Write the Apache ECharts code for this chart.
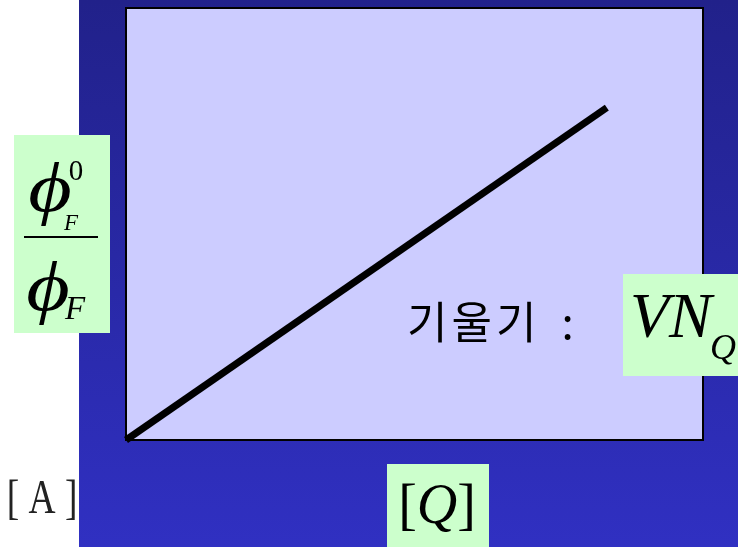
<!DOCTYPE html>
<html>
<head>
<meta charset="utf-8">
<script src="https://cdn.jsdelivr.net/npm/echarts@6/dist/echarts.min.js"></script>
<style>
  html, body { margin: 0; padding: 0; background: #ffffff; }
  #chart { width: 738px; height: 547px; }
</style>
</head>
<body>
<div id="chart"></div>
<script>
// Stern–Volmer style plot: quencher concentration vs. fluorescence ratio (arbitrary units)
const quencherConc = [0, 10];
const fluorRatio = [0, 10];
const slopeWord = '기울기';
const slopeSep = ':';
const cornerLabel = '[ A ]';

const serif = '"Liberation Serif", "DejaVu Serif", serif';
const chart = echarts.init(document.getElementById('chart'));

function txt(x, y, text, font, extra) {
  return Object.assign({
    type: 'text', x: x, y: y, z: 20,
    style: { text: text, font: font, fill: '#000', align: 'center', verticalAlign: 'middle' }
  }, extra || {});
}

// slope caption with a little extra spacing between the Hangul syllables
const slopeRich = slopeWord.split('').map(ch => '{g|' + ch + '}').join('') + '{c|' + slopeSep + '}';

chart.setOption({
  backgroundColor: '#ffffff',
  animation: false,
  grid: {
    left: 126, top: 8, width: 577, height: 432,
    show: true,
    backgroundColor: '#ccccff',
    borderColor: '#000000',
    borderWidth: 2,
    z: 5
  },
  xAxis: { type: 'value', min: 0, max: 12, show: false, splitLine: { show: false } },
  yAxis: { type: 'value', min: 0, max: 13, show: false, splitLine: { show: false } },
  series: [{
    type: 'line',
    data: quencherConc.map((q, i) => [q, fluorRatio[i]]),
    showSymbol: false,
    symbol: 'none',
    lineStyle: { color: '#000000', width: 7 },
    z: 6
  }],
  graphic: [
    // blue panel behind the plot
    {
      type: 'rect', z: -10, silent: true,
      shape: { x: 79, y: 0, width: 659, height: 547 },
      style: {
        fill: new echarts.graphic.LinearGradient(0, 0, 0, 1, [
          { offset: 0, color: '#21218a' },
          { offset: 1, color: '#3030c2' }
        ])
      }
    },
    // label boxes
    { type: 'rect', z: 15, shape: { x: 14, y: 135, width: 96, height: 198 }, style: { fill: '#ccffcc' } },
    { type: 'rect', z: 15, shape: { x: 623, y: 274, width: 115, height: 102 }, style: { fill: '#ccffcc' } },
    { type: 'rect', z: 15, shape: { x: 387, y: 464, width: 102, height: 83 }, style: { fill: '#ccffcc' } },

    // y-axis label: ϕ⁰_F / ϕ_F
    txt(50, 193, 'ϕ', 'italic 70px ' + serif, { scaleX: 1.2 }),
    txt(76, 172, '0', '29px ' + serif),
    txt(71, 224, 'F', 'italic 23px ' + serif),
    { type: 'rect', z: 20, shape: { x: 24, y: 236, width: 74, height: 2 }, style: { fill: '#000' } },
    txt(48, 292, 'ϕ', 'italic 70px ' + serif, { scaleX: 1.2 }),
    txt(75, 310, 'F', 'italic 33px ' + serif),

    // slope annotation
    {
      type: 'text', x: 405, y: 322, z: 20,
      style: {
        text: slopeRich, verticalAlign: 'middle',
        rich: {
          g: { font: '44px "Noto Sans CJK KR", sans-serif', fill: '#000', padding: [0, 2, 0, 2] },
          c: { font: '44px "Noto Sans CJK KR", sans-serif', fill: '#000', padding: [0, 0, 0, 23] }
        }
      }
    },
    { type: 'text', x: 630, y: 320, z: 20,
      style: { text: 'VN', font: 'italic 64px ' + serif, fill: '#000', verticalAlign: 'middle' } },
    { type: 'text', x: 710, y: 350, z: 20,
      style: { text: 'Q', font: 'italic 36px ' + serif, fill: '#000', verticalAlign: 'middle' } },

    // x-axis label
    {
      type: 'text', x: 437, y: 508, z: 20,
      style: {
        text: '{b|[}{q|Q}{b|]}', align: 'center', verticalAlign: 'middle',
        rich: { b: { font: '56px ' + serif, fill: '#000' }, q: { font: 'italic 56px ' + serif, fill: '#000' } }
      }
    },
    // panel tag
    {
      type: 'text', x: 42, y: 500, z: 20, scaleX: 0.78,
      style: { text: cornerLabel, font: '48px ' + serif, fill: '#222', align: 'center', verticalAlign: 'middle' }
    }
  ]
});
</script>
</body>
</html>
